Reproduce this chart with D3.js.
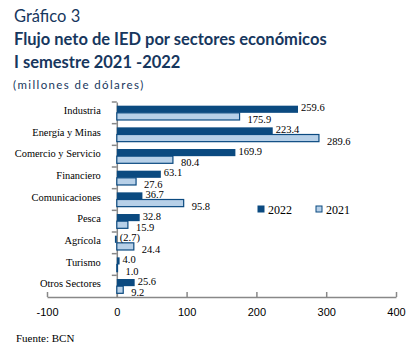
<!DOCTYPE html>
<html>
<head>
<meta charset="utf-8">
<script src="https://cdn.jsdelivr.net/npm/d3@7"></script>
<style>
  body { margin: 0; background: #fff; }
  svg { display: block; }
  .serif { font-family: 'Liberation Serif', 'DejaVu Serif', 'Times New Roman', serif; }
</style>
</head>
<body>
<svg id="chart" width="414" height="353"></svg>
<script>
const sectors = ['Industria', 'Energía y Minas', 'Comercio y Servicio', 'Financiero',
  'Comunicaciones', 'Pesca', 'Agrícola', 'Turismo', 'Otros Sectores'];
const values2022 = [259.6, 223.4, 169.9, 63.1, 36.7, 32.8, -2.7, 4.0, 25.6];
const values2021 = [175.9, 289.6, 80.4, 27.6, 95.8, 15.9, 24.4, 1.0, 9.2];
const years = ['2022', '2021'];
const xTicks = [-100, 0, 100, 200, 300, 400];

const svg = d3.select('#chart');
const margin = {top: 102, left: 47, right: 18, bottom: 56};
const width = 414 - margin.left - margin.right;
const height = 353 - margin.top - margin.bottom;

// titles
const titleColor = '#17375e';
const titleFont = 'Lato, "Open Sans", sans-serif';
svg.append('text').attr('x', 14).attr('y', 22)
  .attr('font-family', titleFont).attr('font-size', 16.5)
  .attr('fill', titleColor).text('Gráfico 3');
svg.append('text').attr('x', 14).attr('y', 45)
  .attr('font-family', titleFont).attr('font-size', 16.5).attr('font-weight', 'bold')
  .attr('fill', titleColor).text('Flujo neto de IED por sectores económicos');
svg.append('text').attr('x', 14).attr('y', 68)
  .attr('font-family', titleFont).attr('font-size', 16.5).attr('font-weight', 'bold')
  .attr('fill', titleColor).text('I semestre 2021 -2022');
svg.append('text').attr('x', 13).attr('y', 89)
  .attr('font-family', titleFont).attr('font-size', 11.5)
  .attr('letter-spacing', 1.4)
  .attr('fill', titleColor).text('(millones de dólares)');

const g = svg.append('g').attr('transform', `translate(${margin.left},${margin.top})`);

const x = d3.scaleLinear().domain([-100, 400]).range([0, width]);
const y = d3.scaleBand().domain(sectors).range([0, height]).paddingInner(0.34).paddingOuter(0.17);
const ySub = d3.scaleBand().domain(years).range([0, y.bandwidth()]);
const color = d3.scaleOrdinal().domain(years).range(['#0b4a80', '#b7d0e8']);

const data = sectors.map((s, i) => ({sector: s, '2022': values2022[i], '2021': values2021[i]}));

// x axis
const xAxis = g.append('g').attr('transform', `translate(0,${height})`)
  .call(d3.axisBottom(x).tickValues(xTicks).tickFormat(d => String(d))
    .tickSize(5).tickSizeOuter(0).tickPadding(6));
xAxis.select('.domain').attr('stroke', '#888').attr('stroke-width', 1.5);
xAxis.selectAll('.tick line').attr('stroke', '#888').attr('stroke-width', 1.5).attr('y1', -5).attr('y2', 0);
xAxis.selectAll('.tick text').attr('font-family', '"Liberation Sans", Arial, sans-serif')
  .attr('font-size', 11).attr('fill', '#000');

// y axis at zero
const yAxis = g.append('g').attr('transform', `translate(${x(0)},0)`)
  .call(d3.axisLeft(y).tickSize(0).tickPadding(16).tickSizeOuter(0));
yAxis.attr('font-family', null);
yAxis.select('.domain').attr('stroke', '#888').attr('stroke-width', 1.5);
yAxis.selectAll('.tick text').attr('class', 'serif')
  .attr('font-size', 10.4).attr('fill', '#000').attr('dy', '0.1em');
// category separators on the y axis
const sep = d3.range(sectors.length).map(i => y.step() * i);
g.selectAll('.ysep').data(sep).enter().append('line')
  .attr('x1', x(0) - 5).attr('x2', x(0))
  .attr('y1', d => d).attr('y2', d => d)
  .attr('stroke', '#888').attr('stroke-width', 1.5);

// bars
const groups = g.selectAll('.grp').data(data).enter().append('g')
  .attr('transform', d => `translate(0,${y(d.sector)})`);

groups.selectAll('rect')
  .data(d => years.map(k => ({key: k, value: d[k]})))
  .enter().append('rect')
  .attr('x', d => x(Math.min(0, d.value)))
  .attr('y', d => ySub(d.key))
  .attr('width', d => Math.abs(x(d.value) - x(0)))
  .attr('height', ySub.bandwidth())
  .attr('fill', d => color(d.key))
  .attr('stroke', d => d.key === '2021' ? '#0b4a80' : 'none')
  .attr('stroke-width', 1.2);

groups.selectAll('.lbl')
  .data(d => years.map(k => ({key: k, value: d[k]})))
  .enter().append('text')
  .attr('class', 'serif')
  .attr('x', d => (d.value < 0 ? x(0) : x(d.value)) + (d.key === '2021' ? 8 : 3))
  .attr('y', d => ySub(d.key) + ySub.bandwidth() / 2 + (d.key === '2021' ? 6.5 : 2))
  .attr('font-size', 10.5).attr('fill', '#000')
  .text(d => d.value < 0 ? `(${Math.abs(d.value).toFixed(1)})` : d.value.toFixed(1));

// legend
const legend = svg.append('g').attr('transform', 'translate(258,206)');
years.forEach((k, i) => {
  const lg = legend.append('g').attr('transform', `translate(${i * 58},0)`);
  lg.append('rect').attr('width', 6).attr('height', 6)
    .attr('fill', color(k)).attr('stroke', '#0b4a80').attr('stroke-width', 1);
  lg.append('text').attr('class', 'serif').attr('x', 10).attr('y', 7.5)
    .attr('font-size', 12).attr('fill', '#000').text(k);
});

// source
svg.append('text').attr('class', 'serif').attr('x', 16).attr('y', 342)
  .attr('font-size', 11).attr('fill', '#000').text('Fuente: BCN');
</script>
</body>
</html>
